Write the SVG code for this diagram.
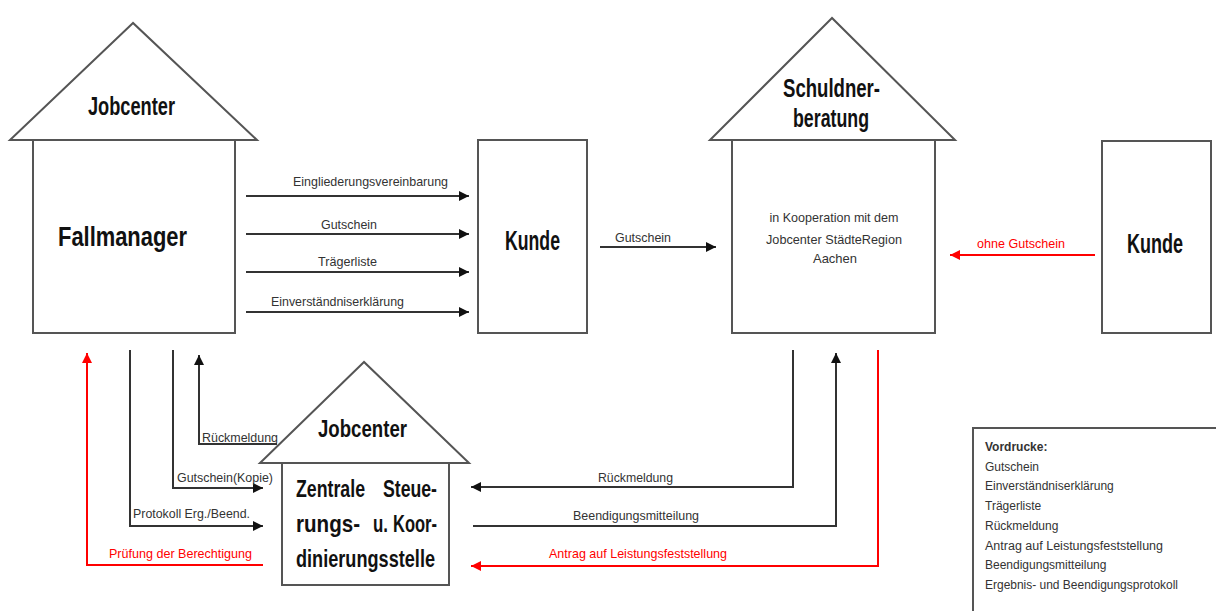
<svg xmlns="http://www.w3.org/2000/svg" width="1216" height="611" viewBox="0 0 1216 611">
<style>
text{font-family:"Liberation Sans Narrow","Liberation Sans",Arial,sans-serif}
.shape{fill:#fff;stroke:#555;stroke-width:2}
.big{font-weight:bold;fill:#111}
.lbl{font-size:13px;fill:#333}
.rl{font-size:13px;fill:#f00}
.ln{fill:none;stroke:#333;stroke-width:2}
.rd{fill:none;stroke:#f00;stroke-width:2}
.leg{font-family:"Liberation Sans",Arial,sans-serif;font-size:12px;fill:#333}
</style>
<defs>
<marker id="ab" viewBox="0 0 10 10" refX="10" refY="5" markerWidth="5" markerHeight="5" orient="auto" markerUnits="strokeWidth"><path d="M0,0L10,5L0,10z" fill="#111"/></marker>
<marker id="ar" viewBox="0 0 10 10" refX="10" refY="5" markerWidth="5" markerHeight="5" orient="auto" markerUnits="strokeWidth"><path d="M0,0L10,5L0,10z" fill="#f00"/></marker>
</defs>
<rect width="1216" height="611" fill="#fff"/>

<g id="jobcenter-fallmanager">
<polygon class="shape" points="133,23 10,140 257,140"/>
<rect class="shape" x="33" y="140" width="202" height="193"/>
<text class="big" x="88" y="115" font-size="25" textLength="87" lengthAdjust="spacingAndGlyphs">Jobcenter</text>
<text class="big" x="58" y="246" font-size="28" textLength="129" lengthAdjust="spacingAndGlyphs">Fallmanager</text>
</g>

<g id="kunde1">
<rect class="shape" x="478" y="140" width="109" height="193"/>
<text class="big" x="505" y="250" font-size="27" textLength="55" lengthAdjust="spacingAndGlyphs">Kunde</text>
</g>

<g id="schuldnerberatung">
<polygon class="shape" points="832,18 710,140 955,140"/>
<rect class="shape" x="732" y="140" width="203" height="193"/>
<text class="big" x="783" y="97" font-size="25" textLength="97" lengthAdjust="spacingAndGlyphs">Schuldner-</text>
<text class="big" x="793" y="127" font-size="25" textLength="76" lengthAdjust="spacingAndGlyphs">beratung</text>
<text class="lbl" x="834" y="222" text-anchor="middle" font-size="12" textLength="129" lengthAdjust="spacingAndGlyphs">in Kooperation mit dem</text>
<text class="lbl" x="834" y="244" text-anchor="middle" font-size="12" textLength="136" lengthAdjust="spacingAndGlyphs">Jobcenter StädteRegion</text>
<text class="lbl" x="835" y="263" text-anchor="middle" font-size="12" textLength="44" lengthAdjust="spacingAndGlyphs">Aachen</text>
</g>

<g id="kunde2">
<rect class="shape" x="1102" y="141" width="109" height="192"/>
<text class="big" x="1127" y="253" font-size="27" textLength="56" lengthAdjust="spacingAndGlyphs">Kunde</text>
</g>

<g id="jobcenter-zentrale">
<polygon class="shape" points="364,362 260,463 469,463"/>
<rect class="shape" x="282" y="463" width="167" height="122"/>
<text class="big" x="318" y="437" font-size="23" textLength="89" lengthAdjust="spacingAndGlyphs">Jobcenter</text>
<text class="big" x="296" y="497" font-size="24" textLength="69" lengthAdjust="spacingAndGlyphs">Zentrale</text>
<text class="big" x="383" y="497" font-size="24" textLength="54" lengthAdjust="spacingAndGlyphs">Steue-</text>
<text class="big" x="296" y="532" font-size="24" textLength="64" lengthAdjust="spacingAndGlyphs">rungs-</text>
<text class="big" x="373" y="532" font-size="24" textLength="15" lengthAdjust="spacingAndGlyphs">u.</text>
<text class="big" x="393" y="532" font-size="24" textLength="44" lengthAdjust="spacingAndGlyphs">Koor-</text>
<text class="big" x="296" y="567" font-size="24" textLength="139" lengthAdjust="spacingAndGlyphs">dinierungsstelle</text>
</g>

<g id="legend">
<rect x="973" y="428" width="260" height="200" fill="#fff" stroke="#555" stroke-width="2"/>
<text class="leg" x="985" y="451" font-weight="bold" fill="#222">Vordrucke:</text>
<text class="leg" x="985" y="471">Gutschein</text>
<text class="leg" x="985" y="490">Einverständniserklärung</text>
<text class="leg" x="985" y="510">Trägerliste</text>
<text class="leg" x="985" y="530">Rückmeldung</text>
<text class="leg" x="985" y="550" textLength="178" lengthAdjust="spacingAndGlyphs">Antrag auf Leistungsfeststellung</text>
<text class="leg" x="985" y="569">Beendigungsmitteilung</text>
<text class="leg" x="985" y="589" textLength="193" lengthAdjust="spacingAndGlyphs">Ergebnis- und Beendigungsprotokoll</text>
</g>

<g id="connectors">
<path class="ln" d="M246,196H469" marker-end="url(#ab)"/>
<path class="ln" d="M246,234H469" marker-end="url(#ab)"/>
<path class="ln" d="M246,272H469" marker-end="url(#ab)"/>
<path class="ln" d="M246,312H469" marker-end="url(#ab)"/>
<text class="lbl" x="293" y="186" textLength="155" lengthAdjust="spacingAndGlyphs">Eingliederungsvereinbarung</text>
<text class="lbl" x="321" y="229" textLength="56" lengthAdjust="spacingAndGlyphs">Gutschein</text>
<text class="lbl" x="318" y="266" textLength="59" lengthAdjust="spacingAndGlyphs">Trägerliste</text>
<text class="lbl" x="271" y="306" textLength="133" lengthAdjust="spacingAndGlyphs">Einverständniserklärung</text>

<path class="ln" d="M600,247H716" marker-end="url(#ab)"/>
<text class="lbl" x="615" y="242" textLength="56" lengthAdjust="spacingAndGlyphs">Gutschein</text>

<path class="rd" d="M1095,255H950" marker-end="url(#ar)"/>
<text class="rl" x="977" y="248" textLength="88" lengthAdjust="spacingAndGlyphs">ohne Gutschein</text>

<path class="rd" d="M263,565H87V353" marker-end="url(#ar)"/>
<text class="rl" x="109" y="558" textLength="143" lengthAdjust="spacingAndGlyphs">Prüfung der Berechtigung</text>
<path class="ln" d="M130,350V526H263" marker-end="url(#ab)"/>
<text class="lbl" x="133" y="518" textLength="117" lengthAdjust="spacingAndGlyphs">Protokoll Erg./Beend.</text>
<path class="ln" d="M173,350V488H263" marker-end="url(#ab)"/>
<text class="lbl" x="177" y="482" textLength="96" lengthAdjust="spacingAndGlyphs">Gutschein(Kopie)</text>
<path class="ln" d="M277,444H199V355" marker-end="url(#ab)"/>
<text class="lbl" x="202" y="442" textLength="76" lengthAdjust="spacingAndGlyphs">Rückmeldung</text>

<path class="ln" d="M793,350V487H471" marker-end="url(#ab)"/>
<text class="lbl" x="598" y="482" textLength="75" lengthAdjust="spacingAndGlyphs">Rückmeldung</text>
<path class="ln" d="M473,526H836V353" marker-end="url(#ab)"/>
<text class="lbl" x="573" y="520" textLength="126" lengthAdjust="spacingAndGlyphs">Beendigungsmitteilung</text>
<path class="rd" d="M878,350V566H471" marker-end="url(#ar)"/>
<text class="rl" x="549" y="558" textLength="178" lengthAdjust="spacingAndGlyphs">Antrag auf Leistungsfeststellung</text>
</g>
</svg>
